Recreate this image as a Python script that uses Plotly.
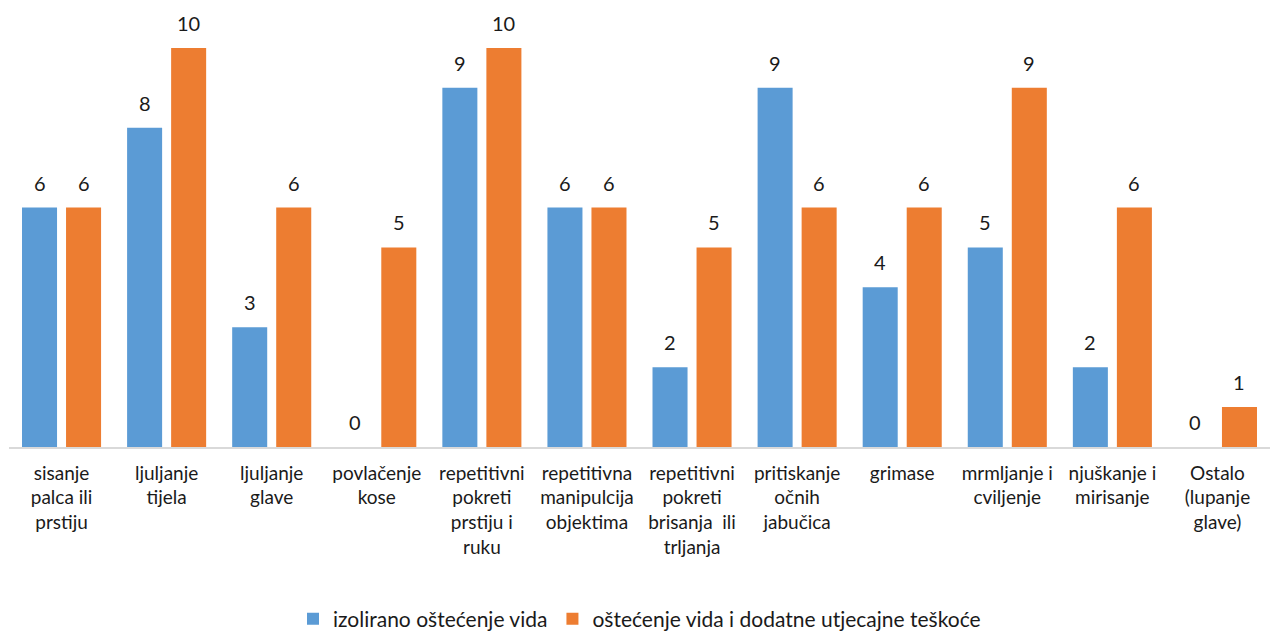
import plotly.graph_objects as go

categories = [
    "sisanje<br>palca ili<br>prstiju",
    "ljuljanje<br>tijela",
    "ljuljanje<br>glave",
    "povlačenje<br>kose",
    "repetitivni<br>pokreti<br>prstiju i<br>ruku",
    "repetitivna<br>manipulcija<br>objektima",
    "repetitivni<br>pokreti<br>brisanja  ili<br>trljanja",
    "pritiskanje<br>očnih<br>jabučica",
    "grimase",
    "mrmljanje i<br>cviljenje",
    "njuškanje i<br>mirisanje",
    "Ostalo<br>(lupanje<br>glave)",
]
series_names = ["izolirano oštećenje vida", "oštećenje vida i dodatne utjecajne teškoće"]
izolirano = [6, 8, 3, 0, 9, 6, 2, 9, 4, 5, 2, 0]
dodatne = [6, 10, 6, 5, 10, 6, 5, 6, 6, 9, 6, 1]
colors = ["#5B9BD5", "#ED7D31"]

FONT = "Lato"
TXT = "#1a1a1a"

fig = go.Figure()
for name, vals, col in zip(series_names, [izolirano, dodatne], colors):
    fig.add_trace(go.Bar(x=categories, y=vals, name=name, marker_color=col,
                         marker_line_width=0))

annotations = []
for vals, shift in [(izolirano, -22), (dodatne, 22)]:
    for c, v in zip(categories, vals):
        annotations.append(dict(x=c, y=v, xref="x", yref="y", text=str(v),
                                showarrow=False, xshift=shift, yshift=25,
                                yanchor="middle",
                                font=dict(family=FONT, size=20, color=TXT)))

fig.update_layout(
    width=1278, height=634,
    margin=dict(l=9, r=8, t=8, b=187, autoexpand=False),
    plot_bgcolor="white", paper_bgcolor="white",
    barmode="group", bargap=0.162, bargroupgap=0.2045,
    font=dict(family=FONT, size=19, color=TXT),
    annotations=annotations,
    showlegend=True,
    legend=dict(orientation="h", x=0.5, xanchor="center", y=-0.392,
                yanchor="middle", font=dict(family=FONT, size=21, color=TXT),
                itemwidth=30, tracegroupgap=0),
    xaxis=dict(showline=True, linecolor="#D9D9D9", linewidth=1.5,
               ticks="", tickfont=dict(family=FONT, size=19, color=TXT),
               ticklabelstandoff=8, automargin=False, fixedrange=True),
    yaxis=dict(range=[0, 11], showgrid=False, showticklabels=False,
               zeroline=False, automargin=False, fixedrange=True),
)

fig.write_html("out.html", config={"displayModeBar": False},
               post_script="document.body.style.margin='0';document.body.style.overflow='hidden';")
